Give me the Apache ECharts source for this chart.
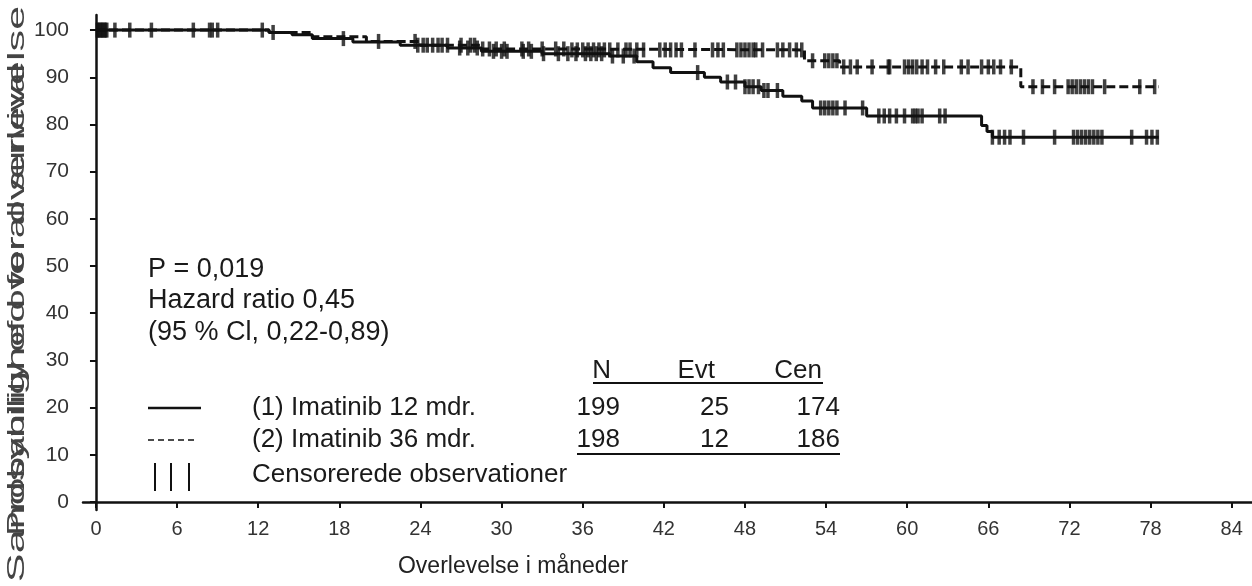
<!DOCTYPE html>
<html>
<head>
<meta charset="utf-8">
<script src="https://cdn.jsdelivr.net/npm/echarts@6/dist/echarts.min.js"></script>
<style>
html,body{margin:0;padding:0;background:#fff;}
#c{width:1252px;height:586px;}
</style>
</head>
<body>
<div id="c"></div>
<script>
// ---- data ----
const xTicks = [0, 6, 12, 18, 24, 30, 36, 42, 48, 54, 60, 66, 72, 78, 84];
const yTicks = [0, 10, 20, 30, 40, 50, 60, 70, 80, 90, 100];

// Arm 1: Imatinib 12 mdr. (solid) - KM step points
const arm1Times = [0, 12.8, 14.5, 16, 19, 22.5, 26, 28.5, 33, 38, 40, 41.2, 42.5, 45, 46.2, 48, 49.2, 50.8, 52.2, 53, 57, 65.5, 65.9, 66.3, 78.6];
const arm1Surv  = [100, 99.5, 99, 98.2, 97.5, 96.8, 96.2, 95.5, 95, 94.5, 93.3, 92, 91, 90, 89, 88, 87.2, 86, 85, 83.5, 81.8, 79.8, 78.5, 77.3, 77.3];
const arm1Censor = [0.2,0.4,0.6,0.8,2.5,7.2,8.6,12.3,18.3,23.8,24.2,25.3,26.9,27.5,28.2,29.4,30.0,30.4,31.6,32.2,33.1,34.2,34.9,35.5,36.2,36.6,37.0,37.4,38.2,39.0,39.8,44.5,46.7,47.3,48.0,48.3,48.6,49.0,49.4,49.7,50.4,53.6,53.9,54.2,54.5,54.8,55.4,56.7,57.9,58.3,58.7,59.2,59.8,60.4,60.6,60.8,61.1,62.4,62.8,66.3,66.8,67.2,67.6,68.6,70.9,72.3,72.6,72.9,73.2,73.5,73.8,74.1,74.4,76.6,77.7,78.1,78.5];

// Arm 2: Imatinib 36 mdr. (dashed)
const arm2Times = [0, 12.8, 16, 20, 24, 28.5, 35, 52.4, 55, 68.4, 78.6];
const arm2Surv  = [100, 99.5, 98.6, 97.6, 96.8, 96, 95.8, 93.5, 92.2, 88, 88];
const arm2Censor = [0.1,0.3,0.5,0.7,1.4,4.1,8.4,9.0,13.1,20.9,23.6,24.5,24.9,25.6,26.0,27.0,27.7,28.0,28.6,29.1,29.6,30.2,31.5,32.0,33.0,34.0,34.6,35.2,35.6,36.0,36.4,36.8,37.2,37.6,38.0,38.6,39.2,39.5,40.0,40.5,41.7,42.1,42.5,42.9,43.3,44.3,45.6,46.0,46.4,47.4,47.7,48.0,48.3,48.6,48.8,49.3,50.4,50.8,51.3,51.8,52.2,53.0,53.9,54.2,54.5,54.8,55.3,55.8,56.3,57.4,58.6,58.7,59.8,60.1,60.4,60.7,61.1,61.5,62.1,62.7,64.0,64.5,65.5,66.0,66.4,66.9,67.7,69.3,70.0,70.9,71.9,72.2,72.5,72.8,73.1,73.4,73.7,74.6,77.2,78.3];

const tableHead = ['N', 'Evt', 'Cen'];
const arm1Row = ['(1) Imatinib 12 mdr.', '199', '25', '174'];
const arm2Row = ['(2) Imatinib 36 mdr.', '198', '12', '186'];
const statsLines = ['P = 0,019', 'Hazard ratio 0,45', '(95 % Cl, 0,22-0,89)'];
const censorLabel = 'Censorerede observationer';
const xTitle = 'Overlevelse i måneder';
const yTitleDa = 'Sandsynlighed for overlevelse';
const yTitleEn = 'Probability of overall survival';

// ---- helpers ----
function survAt(times, surv, t) {
  let v = surv[0];
  for (let i = 0; i < times.length; i++) { if (times[i] <= t) v = surv[i]; }
  return v;
}
function stepData(times, surv) { return times.map((t, i) => [t, surv[i]]); }
function censorData(times, surv, cens) { return cens.map(t => [t, survAt(times, surv, t)]); }

const FONT = 'Liberation Sans, Arial, sans-serif';
const chart = echarts.init(document.getElementById('c'));
const txt = (x, y, s, opt) => Object.assign({
  type: 'text', x: x, y: y,
  style: Object.assign({ text: s, fill: '#1a1a1a', font: '26px ' + FONT, textVerticalAlign: 'middle' }, opt || {})
});
const ln = (x1, y1, x2, y2, w, dash) => ({ type: 'line', shape: { x1, y1, x2, y2 }, style: { stroke: '#111', lineWidth: w || 2, lineDash: dash || null } });

const colR = [620, 729, 840];
const headR = [611, 715, 822];
const graphics = [
  txt(148, 270, statsLines[0], { font: '27px ' + FONT }),
  txt(148, 301, statsLines[1], { font: '27px ' + FONT }),
  txt(148, 333, statsLines[2], { font: '27px ' + FONT }),
  txt(headR[0], 371, tableHead[0], { textAlign: 'right' }),
  txt(headR[1], 371, tableHead[1], { textAlign: 'right' }),
  txt(headR[2], 371, tableHead[2], { textAlign: 'right' }),
  ln(593, 383, 823, 383, 2),
  ln(148, 408, 201, 408, 2.5),
  txt(252, 408, arm1Row[0]),
  txt(colR[0], 408, arm1Row[1], { textAlign: 'right' }),
  txt(colR[1], 408, arm1Row[2], { textAlign: 'right' }),
  txt(colR[2], 408, arm1Row[3], { textAlign: 'right' }),
  ln(148, 440, 194, 440, 1.6, [6, 4]),
  txt(252, 440, arm2Row[0]),
  txt(colR[0], 440, arm2Row[1], { textAlign: 'right' }),
  txt(colR[1], 440, arm2Row[2], { textAlign: 'right' }),
  txt(colR[2], 440, arm2Row[3], { textAlign: 'right' }),
  ln(577, 454, 840, 454, 2),
  ln(155, 463, 155, 491, 2),
  ln(171, 463, 171, 491, 2),
  ln(189, 463, 189, 491, 2),
  txt(252, 475, censorLabel),
  { type: 'text', x: 17, y: 294, rotation: Math.PI / 2, scaleX: 1.8,
    style: { text: yTitleDa, fill: '#444', font: '24px ' + FONT, textAlign: 'center', textVerticalAlign: 'middle' } },
  { type: 'text', x: 17, y: 300, rotation: Math.PI / 2, scaleX: 1.55,
    style: { text: yTitleEn, fill: '#444', font: '24px ' + FONT, textAlign: 'center', textVerticalAlign: 'middle' } },
  { type: 'text', x: 513, y: 567,
    style: { text: xTitle, fill: '#222', font: '23px ' + FONT, textAlign: 'center', textVerticalAlign: 'middle' } }
];

const censorSym = { symbol: 'rect', symbolSize: [3.5, 15], itemStyle: { color: '#111' } };

chart.setOption({
  animation: false,
  backgroundColor: '#fff',
  grid: { left: 83, right: 0, top: 15, bottom: 76 },
  xAxis: {
    type: 'value', min: -0.96, max: 85.5,
    splitLine: { show: false },
    axisLine: { lineStyle: { color: '#111', width: 2.5 } },
    axisTick: { customValues: xTicks, length: 6, lineStyle: { color: '#111', width: 2 } },
    axisLabel: { customValues: xTicks, color: '#333', fontSize: 20, fontFamily: FONT, margin: 9 }
  },
  yAxis: {
    type: 'value', min: -1.7, max: 103.2,
    splitLine: { show: false },
    axisLine: { show: true, lineStyle: { color: '#111', width: 2.5 } },
    axisTick: { show: true, customValues: yTicks, length: 6, lineStyle: { color: '#111', width: 2 } },
    axisLabel: { customValues: yTicks, color: '#333', fontSize: 21, fontFamily: FONT, margin: 14 }
  },
  series: [
    { type: 'line', step: 'end', data: stepData(arm1Times, arm1Surv), showSymbol: false,
      lineStyle: { color: '#111', width: 3 } },
    { type: 'line', step: 'end', data: stepData(arm2Times, arm2Surv), showSymbol: false,
      lineStyle: { color: '#111', width: 3, type: [9, 4] } },
    Object.assign({ type: 'scatter', data: censorData(arm1Times, arm1Surv, arm1Censor) }, censorSym),
    Object.assign({ type: 'scatter', data: censorData(arm2Times, arm2Surv, arm2Censor) }, censorSym)
  ],
  graphic: graphics
});
</script>
</body>
</html>
